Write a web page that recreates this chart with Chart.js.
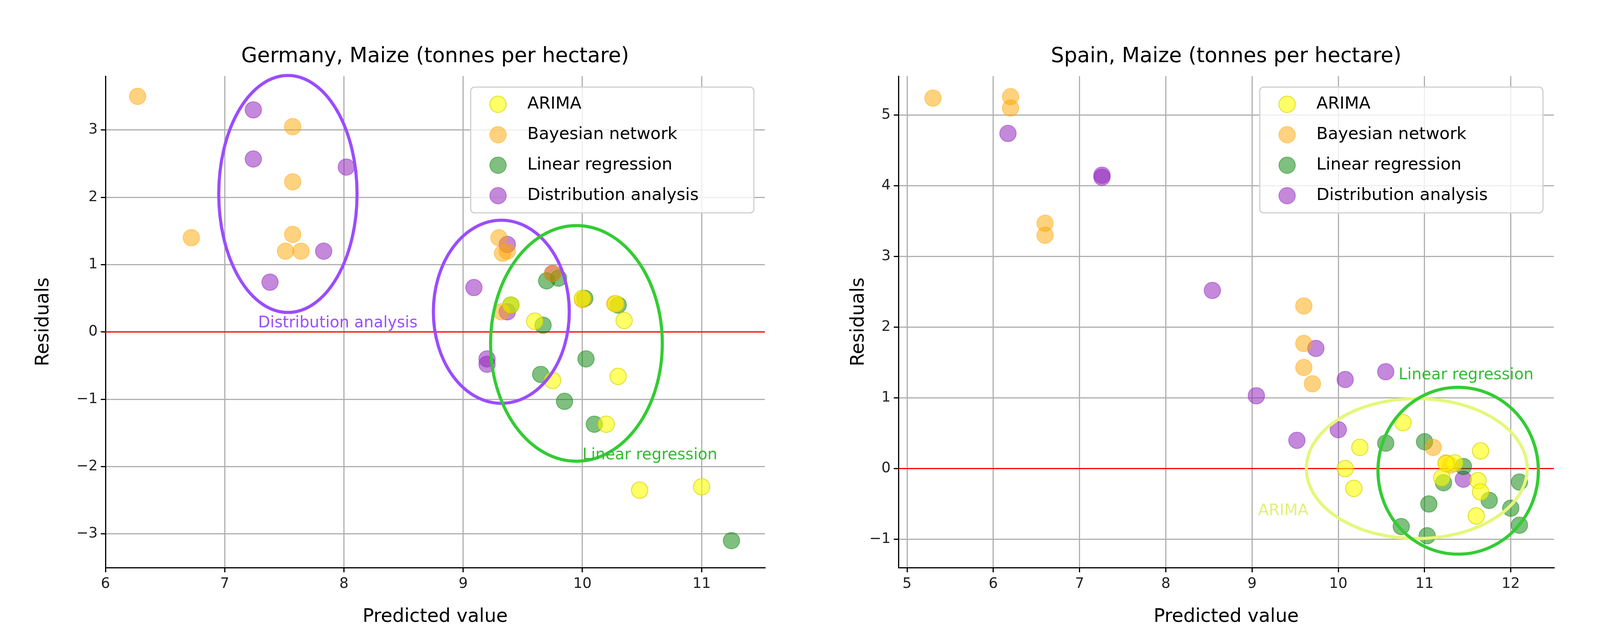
<!DOCTYPE html>
<html><head><meta charset="utf-8">
<script src="https://cdn.jsdelivr.net/npm/chart.js@4"></script>
<style>body{margin:0;background:#fff;width:4174px;height:1623px;overflow:hidden}
canvas{position:absolute;top:0}</style></head><body>
<canvas id="c1" width="2087" height="1623" style="left:0"></canvas>
<canvas id="c2" width="2087" height="1623" style="left:2087px"></canvas>
<script>
const seriesNames=['ARIMA','Bayesian network','Linear regression','Distribution analysis'];
// Germany
const deArima=[[9.4,0.4],[9.6,0.16],[10.0,0.5],[10.28,0.42],[10.35,0.17],[9.75,-0.72],[10.3,-0.66],[10.2,-1.37],[10.48,-2.35],[11.0,-2.3]];
const deBayes=[[6.27,3.5],[6.72,1.4],[7.57,3.05],[7.57,2.23],[7.57,1.45],[7.51,1.2],[7.64,1.2],[9.3,1.4],[9.33,1.17],[9.37,1.2],[9.75,0.87],[10.0,0.48],[10.27,0.42],[9.32,0.3]];
const deLinear=[[9.4,0.4],[9.7,0.76],[9.8,0.8],[10.02,0.5],[10.3,0.4],[9.67,0.1],[9.65,-0.63],[10.03,-0.4],[9.85,-1.03],[10.1,-1.37],[11.25,-3.1]];
const deDist=[[7.24,3.3],[7.24,2.57],[8.02,2.45],[7.83,1.2],[7.38,0.74],[9.37,1.3],[9.09,0.66],[9.75,0.87],[9.37,0.3],[9.2,-0.4],[9.2,-0.48]];
const deXTicks=[6,7,8,9,10,11];
const deYTicks=[-3,-2,-1,0,1,2,3];
// Spain
const esArima=[[10.75,0.65],[10.25,0.3],[10.08,0.0],[10.18,-0.28],[11.2,-0.13],[11.35,0.08],[11.65,0.25],[11.62,-0.17],[11.65,-0.33],[11.6,-0.67],[11.25,0.07]];
const esBayes=[[5.3,5.24],[6.2,5.26],[6.2,5.1],[6.6,3.47],[6.6,3.3],[9.6,2.3],[9.6,1.77],[9.6,1.43],[9.7,1.2],[11.1,0.3],[11.25,0.08],[11.3,0.05]];
const esLinear=[[10.55,0.36],[11.0,0.38],[11.45,0.03],[11.22,-0.2],[11.75,-0.45],[12.1,-0.19],[11.05,-0.5],[12.0,-0.56],[12.1,-0.8],[10.73,-0.82],[11.03,-0.95]];
const esDist=[[6.17,4.74],[7.26,4.15],[7.26,4.12],[8.54,2.52],[9.74,1.7],[9.05,1.03],[10.08,1.26],[10.55,1.37],[9.52,0.4],[10.0,0.55],[11.45,-0.15]];
const esXTicks=[5,6,7,8,9,10,11,12];
const esYTicks=[-1,0,1,2,3,4,5];

const fills=['rgba(255,255,0,0.6)','rgba(255,165,0,0.5)','rgba(0,128,0,0.5)','rgba(148,40,190,0.55)'];
const edges=['rgba(210,210,0,0.8)','rgba(255,165,0,0.5)','rgba(0,128,0,0.5)','rgba(148,40,190,0.55)'];
const F='DejaVu Sans';

function mk(id,title,data,xr,yr,xt,yt,ellipses,labels,yW,padR){
  const ds=data.map((d,i)=>({label:seriesNames[i],data:d.map(p=>({x:p[0],y:p[1]})),backgroundColor:fills[i],borderColor:edges[i],borderWidth:2,pointRadius:21,pointHoverRadius:21}));
  const plug={id:'extra'+id,
    beforeDatasetsDraw(c){const y=c.scales.y,ctx=c.ctx;ctx.save();ctx.strokeStyle='#ff0000';ctx.lineWidth=3;ctx.beginPath();ctx.moveTo(c.chartArea.left,y.getPixelForValue(0));ctx.lineTo(c.chartArea.right,y.getPixelForValue(0));ctx.stroke();ctx.restore();},
    afterDraw(c){const x=c.scales.x,y=c.scales.y,ctx=c.ctx,a=c.chartArea;ctx.save();
      ellipses.forEach(e=>{const cx=x.getPixelForValue(e.cx),cy=y.getPixelForValue(e.cy);const rx=Math.abs(x.getPixelForValue(e.cx+e.rx)-cx),ry=Math.abs(y.getPixelForValue(e.cy+e.ry)-cy);ctx.strokeStyle=e.c;ctx.lineWidth=8;ctx.beginPath();ctx.ellipse(cx,cy,rx,ry,0,0,Math.PI*2);ctx.stroke();});
      labels.forEach(l=>{ctx.fillStyle=l.c;ctx.font='40px "'+F+'"';ctx.textBaseline='middle';ctx.textAlign='left';ctx.fillText(l.t,x.getPixelForValue(l.x),y.getPixelForValue(l.y));});
      ctx.fillStyle='#000';ctx.font='53px "'+F+'"';ctx.textAlign='center';ctx.textBaseline='middle';ctx.fillText(title,(a.left+a.right)/2,145);
      ctx.font='48px "'+F+'"';ctx.fillText('Predicted value',(a.left+a.right)/2,1580);
      ctx.save();ctx.translate(112,(a.top+a.bottom)/2);ctx.rotate(-Math.PI/2);ctx.fillText('Residuals',0,0);ctx.restore();
      const lw=725,lh=322,lx=a.right-lw-28,ly=a.top+28;
      ctx.fillStyle='rgba(255,255,255,0.8)';ctx.strokeStyle='#d0d0d0';ctx.lineWidth=3;ctx.beginPath();ctx.roundRect(lx,ly,lw,lh,10);ctx.fill();ctx.stroke();
      ctx.font='43px "'+F+'"';ctx.textAlign='left';
      seriesNames.forEach((n,i)=>{const yy=ly+44+i*78;ctx.fillStyle=fills[i];ctx.strokeStyle=edges[i];ctx.lineWidth=2;ctx.beginPath();ctx.arc(lx+70,yy,21,0,Math.PI*2);ctx.fill();ctx.stroke();ctx.fillStyle='#000';ctx.fillText(n,lx+145,yy);});
      ctx.restore();}};
  const fmt=v=>v<0?'\u2212'+(-v):String(v);
  new Chart(document.getElementById(id),{type:'scatter',data:{datasets:ds},plugins:[plug],
    options:{responsive:false,animation:false,devicePixelRatio:1,
      layout:{padding:{top:195,right:padR,left:0,bottom:0}},
      plugins:{legend:{display:false},tooltip:{enabled:false}},
      scales:{
        x:{min:xr[0],max:xr[1],afterFit(s){s.height=170},afterBuildTicks(s){s.ticks=xt.map(v=>({value:v}))},
          ticks:{autoSkip:false,maxRotation:0,color:'#222',font:{family:F,size:37},padding:8,callback:v=>fmt(v)},
          grid:{color:'#b0b0b0',lineWidth:3,tickLength:12,tickColor:'#000'},border:{color:'#000',width:3}},
        y:{min:yr[0],max:yr[1],afterFit(s){s.width=yW},afterBuildTicks(s){s.ticks=yt.map(v=>({value:v}))},
          ticks:{autoSkip:false,color:'#222',font:{family:F,size:37},padding:8,callback:v=>fmt(v)},
          grid:{color:'#b0b0b0',lineWidth:3,tickLength:12,tickColor:'#000'},border:{color:'#000',width:3}}}}});
}
mk('c1','Germany, Maize (tonnes per hectare)',[deArima,deBayes,deLinear,deDist],[6,11.53],[-3.5,3.8],deXTicks,deYTicks,
  [{cx:7.53,cy:2.05,rx:0.58,ry:1.76,c:'#9b4dff'},{cx:9.32,cy:0.3,rx:0.57,ry:1.36,c:'#9b4dff'},{cx:9.95,cy:-0.17,rx:0.72,ry:1.75,c:'#33cc33'}],
  [{t:'Distribution analysis',x:7.28,y:0.13,c:'#9b4dff'},{t:'Linear regression',x:10.0,y:-1.83,c:'#33bb33'}],270,129);
mk('c2','Spain, Maize (tonnes per hectare)',[esArima,esBayes,esLinear,esDist],[4.9,12.5],[-1.4,5.55],esXTicks,esYTicks,
  [{cx:10.91,cy:0,rx:1.28,ry:0.99,c:'#e5f77a'},{cx:11.39,cy:-0.03,rx:0.93,ry:1.18,c:'#33cc33'}],
  [{t:'Linear regression',x:10.7,y:1.32,c:'#33bb33'},{t:'ARIMA',x:9.07,y:-0.6,c:'#e0f07a'}],213,196);
</script></body></html>
